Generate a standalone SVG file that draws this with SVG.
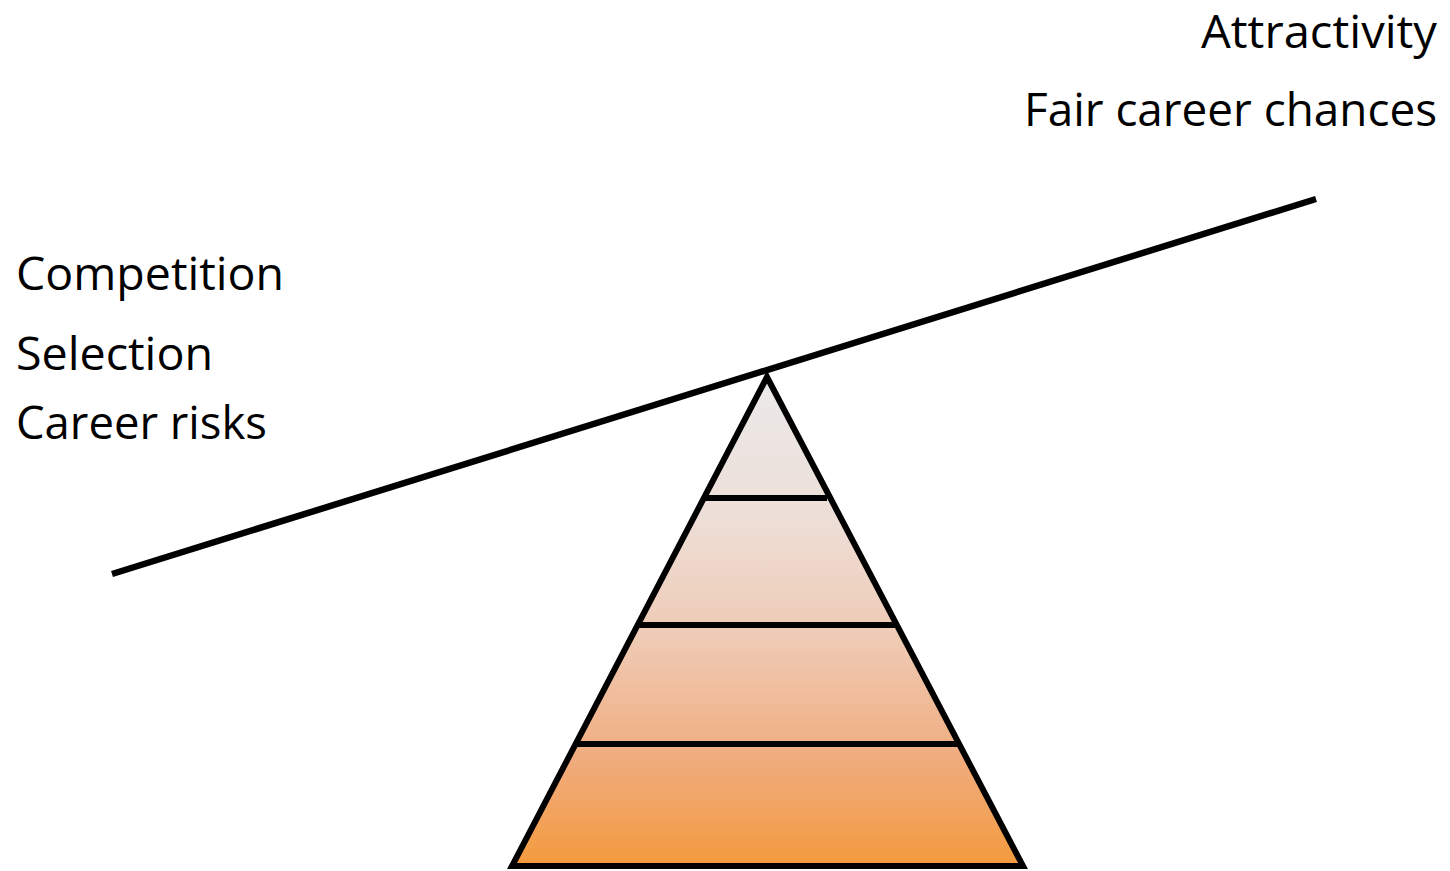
<svg xmlns="http://www.w3.org/2000/svg" width="1450" height="871" viewBox="0 0 1450 871">
  <defs>
    <linearGradient id="pyr" gradientUnits="userSpaceOnUse" x1="0" y1="373" x2="0" y2="868">
      <stop offset="0" stop-color="#EBEAEA"/>
      <stop offset="0.3" stop-color="#EDDED6"/>
      <stop offset="0.55" stop-color="#EFC9B2"/>
      <stop offset="0.78" stop-color="#F0AC7E"/>
      <stop offset="1" stop-color="#F39A3C"/>
    </linearGradient>
    <style>
      .lbl { font-family: "Open Sans", "Noto Sans", "Liberation Sans", sans-serif; font-size: 46px; fill: #000; }
      .edge { stroke: #000; stroke-width: 6; fill: none; }
    </style>
  </defs>
  <rect width="1450" height="871" fill="#fff"/>
  <g id="pyramid">
    <polygon points="767,377 512,866 1023,866" fill="url(#pyr)" stroke="#000" stroke-width="6" stroke-linejoin="miter"/>
    <line class="edge" x1="704" y1="498" x2="827" y2="498"/>
    <line class="edge" x1="637" y1="625" x2="895" y2="625"/>
    <line class="edge" x1="575" y1="744" x2="959" y2="744"/>
  </g>
  <g id="connectors">
    <line id="beam" x1="112" y1="574" x2="1316" y2="199" stroke="#000" stroke-width="6.5"/>
  </g>
  <g id="right-labels">
    <text class="lbl" x="1437" y="48" text-anchor="end" textLength="236" lengthAdjust="spacingAndGlyphs">Attractivity</text>
    <text class="lbl" x="1437" y="126" text-anchor="end" textLength="413" lengthAdjust="spacingAndGlyphs">Fair career chances</text>
  </g>
  <g id="left-labels">
    <text class="lbl" x="16" y="290" textLength="268" lengthAdjust="spacingAndGlyphs">Competition</text>
    <text class="lbl" x="16" y="370" textLength="197" lengthAdjust="spacingAndGlyphs">Selection</text>
    <text class="lbl" x="16" y="439" textLength="251" lengthAdjust="spacingAndGlyphs">Career risks</text>
  </g>
</svg>
